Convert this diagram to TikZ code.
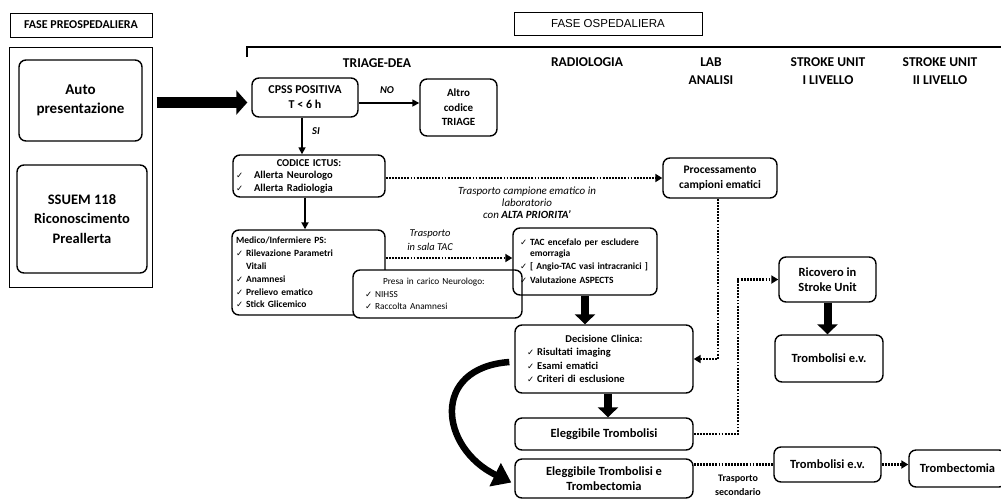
\documentclass[tikz,border=0pt]{standalone}
\usepackage{fontspec}
\setmainfont{Carlito}
\newfontfamily\dvfont{DejaVu Sans}
\newfontfamily\arialfont{Liberation Sans}
\usetikzlibrary{arrows.meta,calc}
\newcommand\chk{{\dvfont\fontsize{8.5}{8.5}\selectfont ✓}\hspace{3pt}}
\newcommand\fs[2]{\fontsize{#1}{#2}\selectfont}
\begin{document}
\begin{tikzpicture}[x=1pt,y=-1pt,
  box/.style={draw, line width=1.4pt, rounded corners=7pt, align=center, inner sep=2pt, font=\bfseries\fs{11}{13.5}},
  sqbox/.style={draw, line width=1pt, inner sep=0pt},
  hdr/.style={font=\bfseries\fs{13.5}{18}, align=center},
  thinarrow/.style={line width=1.6pt, -{Triangle[length=7pt,width=7pt]}},
  fat/.style={line width=8pt, -{Triangle[length=10pt,width=20pt]}},
  bigfat/.style={line width=11pt, -{Triangle[length=11pt,width=24pt]}},
  curvefat/.style={line width=6.5pt, -{Triangle[length=18pt,width=25pt]}},
  dots/.style={line width=2.3pt, dash pattern=on 1.8pt off 1.3pt},
  dotarrow/.style={dots, -{Triangle[length=7pt,width=8pt]}},
  lbl/.style={font=\itshape\fs{11}{12}, align=center},
]
\useasboundingbox (0,0) rectangle (1001,499);

% pre-hospital phase
\node[sqbox, minimum width=142pt, minimum height=24pt, font=\bfseries\fs{12}{14}] (pretitle) at (81,25) {FASE PREOSPEDALIERA};
\node[sqbox, minimum width=143pt, minimum height=240pt] (leftpanel) at (80.5,167) {};
\node[box, font=\bfseries\fs{15}{19}, minimum width=123pt, minimum height=81pt] (auto) at (80.5,100.5) {Auto\\presentazione};
\node[box, font=\bfseries\fs{14.5}{19.5}, minimum width=130pt, minimum height=108pt] (ssuem) at (82,219) {SSUEM 118\\Riconoscimento\\Preallerta};

% hospital phase
\node[sqbox, minimum width=188pt, minimum height=23pt, font=\arialfont\fs{11.5}{13}] (ospedtitle) at (608,23.5) {FASE OSPEDALIERA};
\draw[line width=1.4pt] (247,57) -- (247,47) -- (1001,47);

\node[hdr] (htriage) at (377,63) {TRIAGE-DEA};
\node[hdr] (hradio) at (587,62) {RADIOLOGIA};
\node[hdr] (hlab) at (711,71) {LAB\\ANALISI};
\node[hdr] (hsu1) at (828,71) {STROKE UNIT\\I LIVELLO};
\node[hdr] (hsu2) at (940,71) {STROKE UNIT\\II LIVELLO};

\node[box, font=\bfseries\fs{12}{15}, minimum width=106pt, minimum height=39pt] (cpss) at (305,97.5) {CPSS POSITIVA\\T < 6 h};
\node[box, font=\bfseries\fs{11}{14.5}, minimum width=77pt, minimum height=57pt] (altro) at (458.5,107.5) {Altro\\codice\\TRIAGE};

\node[box, font=\bfseries\fs{10.5}{12.5}, align=left, text width=146pt, inner xsep=3pt, minimum height=42pt] (codice) at (309,176) {\makebox[\linewidth]{CODICE ICTUS:}\\\chk\hspace*{8pt}Allerta Neurologo\\\chk\hspace*{8pt}Allerta Radiologia};

\node[box, font=\bfseries\fs{9.5}{12.8}, align=left, text width=145pt, inner xsep=4pt, minimum height=85pt] (medico) at (308.5,272.5) {Medico/Infermiere PS:\\\chk Rilevazione Parametri\\\hspace*{10pt}Vitali\\\chk Anamnesi\\\chk Prelievo ematico\\\chk Stick Glicemico};

\node[box, fill=white, font=\fs{9.3}{12.5}, align=left, text width=145pt, inner xsep=12pt, minimum height=48pt] (presa) at (437.5,294) {\hspace*{18pt}Presa in carico Neurologo:\\\chk NIHSS\\\chk Raccolta Anamnesi};

\node[box, font=\bfseries\fs{9.5}{11}, align=left, text width=130pt, inner xsep=7pt, minimum height=67pt] (tac) at (585,261.5) {\chk TAC encefalo per escludere\\\hspace*{10pt}emorragia\\[2pt]\chk [ Angio-TAC vasi intracranici ]\\[3pt]\chk Valutazione ASPECTS};

\node[box, font=\bfseries\fs{11.5}{15}, minimum width=114pt, minimum height=40pt] (proc) at (720,178) {Processamento\\campioni ematici};

\node[box, font=\bfseries\fs{10.5}{13.5}, align=left, text width=154pt, inner xsep=12pt, minimum height=68pt] (decisione) at (604,359) {\makebox[\linewidth]{Decisione Clinica:}\\\chk Risultati imaging\\\chk Esami ematici\\\chk Criteri di esclusione};

\node[box, font=\bfseries\fs{12.5}{15}, minimum width=178pt, minimum height=32pt] (eleg1) at (604,434) {Eleggibile Trombolisi};
\node[box, font=\bfseries\fs{12.5}{15}, minimum width=178pt, minimum height=39pt] (eleg2) at (604,478.5) {Eleggibile Trombolisi e\\Trombectomia};

\node[box, font=\bfseries\fs{12.5}{15}, minimum width=97pt, minimum height=45pt] (ricovero) at (827.5,279.5) {Ricovero in\\Stroke Unit};
\node[box, font=\bfseries\fs{12.5}{15}, minimum width=108pt, minimum height=47pt] (tromb1) at (829,358.5) {Trombolisi e.v.};
\node[box, font=\bfseries\fs{12.5}{15}, minimum width=107pt, minimum height=35pt] (tromb2) at (827.5,464.5) {Trombolisi e.v.};
\node[box, font=\bfseries\fs{12.5}{15}, minimum width=97pt, minimum height=37pt] (trombect) at (957.5,468.5) {Trombectomia};

% labels
\node[font=\bfseries\itshape\fs{10.5}{12}] (nolbl) at (387,90) {NO};
\node[font=\bfseries\itshape\fs{10.5}{12}] (silbl) at (316,131) {SI};
\node[lbl] (lblcamp) at (527,203) {Trasporto campione ematico in\\laboratorio\\con \textbf{ALTA PRIORITA'}};
\node[lbl, font=\itshape\fs{10.5}{14.5}] (lbltac) at (430,240) {Trasporto\\in sala TAC};
\node[font=\bfseries\fs{10}{14}, align=center] (lblsec) at (738,485) {Trasporto\\secondario};

% connectors
\draw[bigfat, shorten <=4pt, shorten >=4pt] (leftpanel.east |- 0,102.5) -- (cpss.west |- 0,102.5);
\draw[thinarrow] (cpss.east |- 0,103) -- (altro.west |- 0,103);
\draw[thinarrow] (cpss.south -| 302,0) -- (codice.north -| 302,0);
\draw[thinarrow, line width=2pt] (codice.south -| 305,0) -- (medico.north -| 305,0);
\draw[dotarrow] (codice.east |- 0,178) -- (proc.west |- 0,178);
\draw[dotarrow] (medico.east |- 0,258) -- (tac.west |- 0,258);
\draw[fat] (tac.south) -- (tac.south |- decisione.north);
\draw[fat] (decisione.south -| 608,0) -- (eleg1.north -| 608,0);
\draw[dotarrow] (proc.south -| 718,0) |- (decisione.east);
\draw[dotarrow] (eleg1.east) -- ++(44,0) |- (ricovero.west);
\draw[fat] (ricovero.south) -- (ricovero.south |- tromb1.north);
\draw[dots] (eleg2.east |- tromb2.west) -- (tromb2.west);
\draw[dotarrow] (tromb2.east) -- (trombect.west |- tromb2.east);
\draw[curvefat] ($(decisione.west)+(-5,3)$) .. controls (430,368) and (440,448) .. ($(eleg2.west)+(-3,4)$);
\end{tikzpicture}
\end{document}
